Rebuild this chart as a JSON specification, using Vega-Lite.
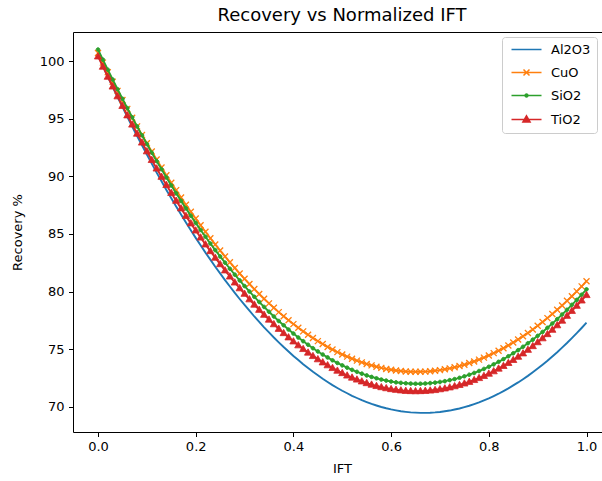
{
  "$schema": "https://vega.github.io/schema/vega-lite/v6.json",
  "autosize": {"type": "none"},
  "padding": {"left": 73, "top": 32, "right": 0, "bottom": 49},
  "width": 529,
  "height": 400,
  "background": "#ffffff",
  "title": {"text": "Recovery vs Normalized IFT", "frame": "group", "anchor": "middle", "dx": 4.5, "offset": 7, "fontSize": 18, "font": "DejaVu Sans", "fontWeight": "normal", "color": "#000000"},
  "config": {
    "font": "DejaVu Sans",
    "view": {"stroke": "#000000", "strokeWidth": 1},
    "axis": {"domain": false, "grid": false, "tickColor": "#000000", "tickSize": 4.5, "tickWidth": 1, "labelColor": "#000000", "labelFontSize": 13, "labelFont": "DejaVu Sans", "titleFont": "DejaVu Sans", "titleFontSize": 13, "titleFontWeight": "normal", "titleColor": "#000000"},
    "legend": {"orient": "top-right", "offset": 5, "padding": 6, "strokeColor": "#cccccc", "fillColor": "#ffffff", "cornerRadius": 3, "labelFont": "DejaVu Sans", "labelFontSize": 13, "labelColor": "#000000", "symbolSize": 36, "symbolOffset": 12, "labelOffset": 18, "rowPadding": 9, "symbolStrokeWidth": 1.5}
  },
  "datasets": {
    "d": [
      {"x":0,"Al2O3":100.5,"CuO":100.7,"SiO2":101,"TiO2":100.4},
      {"x":0.01,"Al2O3":99.58,"CuO":99.86,"SiO2":100.12,"TiO2":99.51},
      {"x":0.02,"Al2O3":98.66,"CuO":99.03,"SiO2":99.25,"TiO2":98.64},
      {"x":0.03,"Al2O3":97.77,"CuO":98.21,"SiO2":98.40,"TiO2":97.79},
      {"x":0.04,"Al2O3":96.88,"CuO":97.41,"SiO2":97.56,"TiO2":96.94},
      {"x":0.05,"Al2O3":96.02,"CuO":96.62,"SiO2":96.73,"TiO2":96.11},
      {"x":0.06,"Al2O3":95.16,"CuO":95.85,"SiO2":95.92,"TiO2":95.29},
      {"x":0.07,"Al2O3":94.32,"CuO":95.08,"SiO2":95.12,"TiO2":94.49},
      {"x":0.08,"Al2O3":93.49,"CuO":94.33,"SiO2":94.33,"TiO2":93.70},
      {"x":0.09,"Al2O3":92.68,"CuO":93.59,"SiO2":93.56,"TiO2":92.93},
      {"x":0.10,"Al2O3":91.88,"CuO":92.87,"SiO2":92.80,"TiO2":92.17},
      {"x":0.11,"Al2O3":91.10,"CuO":92.16,"SiO2":92.05,"TiO2":91.42},
      {"x":0.12,"Al2O3":90.32,"CuO":91.46,"SiO2":91.32,"TiO2":90.68},
      {"x":0.13,"Al2O3":89.57,"CuO":90.77,"SiO2":90.61,"TiO2":89.96},
      {"x":0.14,"Al2O3":88.82,"CuO":90.10,"SiO2":89.90,"TiO2":89.25},
      {"x":0.15,"Al2O3":88.10,"CuO":89.44,"SiO2":89.21,"TiO2":88.56},
      {"x":0.16,"Al2O3":87.38,"CuO":88.80,"SiO2":88.53,"TiO2":87.88},
      {"x":0.17,"Al2O3":86.68,"CuO":88.16,"SiO2":87.87,"TiO2":87.22},
      {"x":0.18,"Al2O3":85.99,"CuO":87.54,"SiO2":87.22,"TiO2":86.56},
      {"x":0.19,"Al2O3":85.32,"CuO":86.93,"SiO2":86.58,"TiO2":85.92},
      {"x":0.20,"Al2O3":84.66,"CuO":86.34,"SiO2":85.96,"TiO2":85.30},
      {"x":0.21,"Al2O3":84.02,"CuO":85.76,"SiO2":85.35,"TiO2":84.69},
      {"x":0.22,"Al2O3":83.38,"CuO":85.19,"SiO2":84.76,"TiO2":84.09},
      {"x":0.23,"Al2O3":82.77,"CuO":84.63,"SiO2":84.17,"TiO2":83.51},
      {"x":0.24,"Al2O3":82.16,"CuO":84.09,"SiO2":83.60,"TiO2":82.94},
      {"x":0.25,"Al2O3":81.58,"CuO":83.56,"SiO2":83.05,"TiO2":82.38},
      {"x":0.26,"Al2O3":81.00,"CuO":83.05,"SiO2":82.51,"TiO2":81.84},
      {"x":0.27,"Al2O3":80.44,"CuO":82.54,"SiO2":81.98,"TiO2":81.31},
      {"x":0.28,"Al2O3":79.89,"CuO":82.05,"SiO2":81.47,"TiO2":80.79},
      {"x":0.29,"Al2O3":79.36,"CuO":81.57,"SiO2":80.97,"TiO2":80.29},
      {"x":0.30,"Al2O3":78.84,"CuO":81.11,"SiO2":80.48,"TiO2":79.81},
      {"x":0.31,"Al2O3":78.34,"CuO":80.66,"SiO2":80.01,"TiO2":79.33},
      {"x":0.32,"Al2O3":77.84,"CuO":80.22,"SiO2":79.55,"TiO2":78.87},
      {"x":0.33,"Al2O3":77.37,"CuO":79.79,"SiO2":79.10,"TiO2":78.42},
      {"x":0.34,"Al2O3":76.90,"CuO":79.38,"SiO2":78.67,"TiO2":77.99},
      {"x":0.35,"Al2O3":76.46,"CuO":78.98,"SiO2":78.25,"TiO2":77.57},
      {"x":0.36,"Al2O3":76.02,"CuO":78.60,"SiO2":77.84,"TiO2":77.17},
      {"x":0.37,"Al2O3":75.60,"CuO":78.22,"SiO2":77.45,"TiO2":76.77},
      {"x":0.38,"Al2O3":75.19,"CuO":77.86,"SiO2":77.08,"TiO2":76.40},
      {"x":0.39,"Al2O3":74.80,"CuO":77.51,"SiO2":76.71,"TiO2":76.03},
      {"x":0.40,"Al2O3":74.42,"CuO":77.18,"SiO2":76.36,"TiO2":75.68},
      {"x":0.41,"Al2O3":74.06,"CuO":76.86,"SiO2":76.02,"TiO2":75.34},
      {"x":0.42,"Al2O3":73.70,"CuO":76.55,"SiO2":75.70,"TiO2":75.02},
      {"x":0.43,"Al2O3":73.37,"CuO":76.25,"SiO2":75.39,"TiO2":74.71},
      {"x":0.44,"Al2O3":73.04,"CuO":75.97,"SiO2":75.09,"TiO2":74.41},
      {"x":0.45,"Al2O3":72.74,"CuO":75.70,"SiO2":74.81,"TiO2":74.13},
      {"x":0.46,"Al2O3":72.44,"CuO":75.45,"SiO2":74.54,"TiO2":73.86},
      {"x":0.47,"Al2O3":72.16,"CuO":75.20,"SiO2":74.29,"TiO2":73.61},
      {"x":0.48,"Al2O3":71.89,"CuO":74.97,"SiO2":74.04,"TiO2":73.37},
      {"x":0.49,"Al2O3":71.64,"CuO":74.75,"SiO2":73.81,"TiO2":73.14},
      {"x":0.50,"Al2O3":71.40,"CuO":74.55,"SiO2":73.60,"TiO2":72.93},
      {"x":0.51,"Al2O3":71.18,"CuO":74.36,"SiO2":73.40,"TiO2":72.72},
      {"x":0.52,"Al2O3":70.96,"CuO":74.18,"SiO2":73.21,"TiO2":72.54},
      {"x":0.53,"Al2O3":70.77,"CuO":74.01,"SiO2":73.04,"TiO2":72.37},
      {"x":0.54,"Al2O3":70.58,"CuO":73.86,"SiO2":72.88,"TiO2":72.21},
      {"x":0.55,"Al2O3":70.42,"CuO":73.72,"SiO2":72.73,"TiO2":72.06},
      {"x":0.56,"Al2O3":70.26,"CuO":73.60,"SiO2":72.60,"TiO2":71.93},
      {"x":0.57,"Al2O3":70.12,"CuO":73.48,"SiO2":72.48,"TiO2":71.81},
      {"x":0.58,"Al2O3":69.99,"CuO":73.38,"SiO2":72.37,"TiO2":71.71},
      {"x":0.59,"Al2O3":69.88,"CuO":73.29,"SiO2":72.28,"TiO2":71.62},
      {"x":0.60,"Al2O3":69.78,"CuO":73.22,"SiO2":72.20,"TiO2":71.54},
      {"x":0.61,"Al2O3":69.70,"CuO":73.16,"SiO2":72.13,"TiO2":71.48},
      {"x":0.62,"Al2O3":69.62,"CuO":73.11,"SiO2":72.08,"TiO2":71.43},
      {"x":0.63,"Al2O3":69.57,"CuO":73.07,"SiO2":72.05,"TiO2":71.39},
      {"x":0.64,"Al2O3":69.52,"CuO":73.05,"SiO2":72.02,"TiO2":71.37},
      {"x":0.65,"Al2O3":69.50,"CuO":73.04,"SiO2":72.01,"TiO2":71.36},
      {"x":0.66,"Al2O3":69.48,"CuO":73.05,"SiO2":72.01,"TiO2":71.37},
      {"x":0.67,"Al2O3":69.48,"CuO":73.06,"SiO2":72.03,"TiO2":71.39},
      {"x":0.68,"Al2O3":69.49,"CuO":73.09,"SiO2":72.06,"TiO2":71.42},
      {"x":0.69,"Al2O3":69.52,"CuO":73.13,"SiO2":72.10,"TiO2":71.46},
      {"x":0.70,"Al2O3":69.56,"CuO":73.19,"SiO2":72.16,"TiO2":71.53},
      {"x":0.71,"Al2O3":69.62,"CuO":73.26,"SiO2":72.23,"TiO2":71.60},
      {"x":0.72,"Al2O3":69.68,"CuO":73.34,"SiO2":72.32,"TiO2":71.69},
      {"x":0.73,"Al2O3":69.77,"CuO":73.43,"SiO2":72.41,"TiO2":71.79},
      {"x":0.74,"Al2O3":69.86,"CuO":73.54,"SiO2":72.52,"TiO2":71.90},
      {"x":0.75,"Al2O3":69.98,"CuO":73.66,"SiO2":72.65,"TiO2":72.03},
      {"x":0.76,"Al2O3":70.10,"CuO":73.80,"SiO2":72.79,"TiO2":72.17},
      {"x":0.77,"Al2O3":70.24,"CuO":73.94,"SiO2":72.94,"TiO2":72.33},
      {"x":0.78,"Al2O3":70.39,"CuO":74.10,"SiO2":73.11,"TiO2":72.50},
      {"x":0.79,"Al2O3":70.56,"CuO":74.27,"SiO2":73.29,"TiO2":72.68},
      {"x":0.80,"Al2O3":70.74,"CuO":74.46,"SiO2":73.48,"TiO2":72.88},
      {"x":0.81,"Al2O3":70.94,"CuO":74.66,"SiO2":73.69,"TiO2":73.09},
      {"x":0.82,"Al2O3":71.14,"CuO":74.87,"SiO2":73.91,"TiO2":73.32},
      {"x":0.83,"Al2O3":71.37,"CuO":75.09,"SiO2":74.14,"TiO2":73.55},
      {"x":0.84,"Al2O3":71.60,"CuO":75.33,"SiO2":74.39,"TiO2":73.81},
      {"x":0.85,"Al2O3":71.86,"CuO":75.58,"SiO2":74.65,"TiO2":74.07},
      {"x":0.86,"Al2O3":72.12,"CuO":75.85,"SiO2":74.92,"TiO2":74.35},
      {"x":0.87,"Al2O3":72.40,"CuO":76.12,"SiO2":75.21,"TiO2":74.64},
      {"x":0.88,"Al2O3":72.69,"CuO":76.41,"SiO2":75.52,"TiO2":74.95},
      {"x":0.89,"Al2O3":73.00,"CuO":76.71,"SiO2":75.83,"TiO2":75.27},
      {"x":0.90,"Al2O3":73.32,"CuO":77.03,"SiO2":76.16,"TiO2":75.61},
      {"x":0.91,"Al2O3":73.66,"CuO":77.36,"SiO2":76.50,"TiO2":75.95},
      {"x":0.92,"Al2O3":74.00,"CuO":77.70,"SiO2":76.86,"TiO2":76.31},
      {"x":0.93,"Al2O3":74.37,"CuO":78.05,"SiO2":77.23,"TiO2":76.69},
      {"x":0.94,"Al2O3":74.74,"CuO":78.42,"SiO2":77.61,"TiO2":77.08},
      {"x":0.95,"Al2O3":75.14,"CuO":78.80,"SiO2":78.01,"TiO2":77.48},
      {"x":0.96,"Al2O3":75.54,"CuO":79.20,"SiO2":78.42,"TiO2":77.90},
      {"x":0.97,"Al2O3":75.96,"CuO":79.60,"SiO2":78.85,"TiO2":78.33},
      {"x":0.98,"Al2O3":76.39,"CuO":80.02,"SiO2":79.28,"TiO2":78.77},
      {"x":0.99,"Al2O3":76.84,"CuO":80.45,"SiO2":79.73,"TiO2":79.23},
      {"x":1.00,"Al2O3":77.30,"CuO":80.90,"SiO2":80.20,"TiO2":79.70}
    ]
  },
  "data": {"name": "d"},
  "layer": [
    {
      "mark": {"type": "line", "color": "#1f77b4", "strokeWidth": 1.9},
      "encoding": {
        "x": {"field": "x", "type": "quantitative", "scale": {"domain": [-0.0512, 1.0317], "nice": false, "zero": false}, "axis": {"title": "IFT", "values": [0, 0.2, 0.4, 0.6, 0.8, 1.0], "format": ".1f", "labelPadding": 4, "titlePadding": 9, "titleX": 269}},
        "y": {"field": "Al2O3", "type": "quantitative", "scale": {"domain": [67.82, 102.52], "nice": false, "zero": false}, "axis": {"title": "Recovery %", "values": [70, 75, 80, 85, 90, 95, 100], "labelPadding": 4.5, "titlePadding": 15}}
      }
    },
    {
      "mark": {"type": "line", "color": "#ff7f0e", "strokeWidth": 1.9},
      "encoding": {
        "x": {"field": "x", "type": "quantitative", "scale": {"domain": [-0.0512, 1.0317], "nice": false, "zero": false}, "axis": {"title": "IFT", "values": [0, 0.2, 0.4, 0.6, 0.8, 1.0], "format": ".1f", "labelPadding": 4, "titlePadding": 9, "titleX": 269}},
        "y": {"field": "CuO", "type": "quantitative", "scale": {"domain": [67.82, 102.52], "nice": false, "zero": false}, "axis": {"title": "Recovery %", "values": [70, 75, 80, 85, 90, 95, 100], "labelPadding": 4.5, "titlePadding": 15}}
      }
    },
    {
      "mark": {"type": "point", "shape": "M-1,-1L1,1M-1,1L1,-1", "size": 36, "filled": true, "fill": "#ff7f0e", "stroke": "#ff7f0e", "strokeWidth": 1.3, "opacity": 1},
      "encoding": {
        "x": {"field": "x", "type": "quantitative", "scale": {"domain": [-0.0512, 1.0317], "nice": false, "zero": false}, "axis": {"title": "IFT", "values": [0, 0.2, 0.4, 0.6, 0.8, 1.0], "format": ".1f", "labelPadding": 4, "titlePadding": 9, "titleX": 269}},
        "y": {"field": "CuO", "type": "quantitative", "scale": {"domain": [67.82, 102.52], "nice": false, "zero": false}, "axis": {"title": "Recovery %", "values": [70, 75, 80, 85, 90, 95, 100], "labelPadding": 4.5, "titlePadding": 15}}
      }
    },
    {
      "mark": {"type": "line", "color": "#2ca02c", "strokeWidth": 1.9},
      "encoding": {
        "x": {"field": "x", "type": "quantitative", "scale": {"domain": [-0.0512, 1.0317], "nice": false, "zero": false}, "axis": {"title": "IFT", "values": [0, 0.2, 0.4, 0.6, 0.8, 1.0], "format": ".1f", "labelPadding": 4, "titlePadding": 9, "titleX": 269}},
        "y": {"field": "SiO2", "type": "quantitative", "scale": {"domain": [67.82, 102.52], "nice": false, "zero": false}, "axis": {"title": "Recovery %", "values": [70, 75, 80, 85, 90, 95, 100], "labelPadding": 4.5, "titlePadding": 15}}
      }
    },
    {
      "mark": {"type": "point", "shape": "M0.6,0A0.6,0.6,0,1,1,-0.6,0A0.6,0.6,0,1,1,0.6,0Z", "size": 36, "filled": true, "fill": "#2ca02c", "stroke": "#2ca02c", "strokeWidth": 1, "opacity": 1},
      "encoding": {
        "x": {"field": "x", "type": "quantitative", "scale": {"domain": [-0.0512, 1.0317], "nice": false, "zero": false}, "axis": {"title": "IFT", "values": [0, 0.2, 0.4, 0.6, 0.8, 1.0], "format": ".1f", "labelPadding": 4, "titlePadding": 9, "titleX": 269}},
        "y": {"field": "SiO2", "type": "quantitative", "scale": {"domain": [67.82, 102.52], "nice": false, "zero": false}, "axis": {"title": "Recovery %", "values": [70, 75, 80, 85, 90, 95, 100], "labelPadding": 4.5, "titlePadding": 15}}
      }
    },
    {
      "mark": {"type": "line", "color": "#d62728", "strokeWidth": 1.9},
      "encoding": {
        "x": {"field": "x", "type": "quantitative", "scale": {"domain": [-0.0512, 1.0317], "nice": false, "zero": false}, "axis": {"title": "IFT", "values": [0, 0.2, 0.4, 0.6, 0.8, 1.0], "format": ".1f", "labelPadding": 4, "titlePadding": 9, "titleX": 269}},
        "y": {"field": "TiO2", "type": "quantitative", "scale": {"domain": [67.82, 102.52], "nice": false, "zero": false}, "axis": {"title": "Recovery %", "values": [70, 75, 80, 85, 90, 95, 100], "labelPadding": 4.5, "titlePadding": 15}}
      }
    },
    {
      "mark": {"type": "point", "shape": "M0,-1.25L1.2,0.85L-1.2,0.85Z", "size": 36, "filled": true, "fill": "#d62728", "stroke": "#d62728", "strokeWidth": 0.8, "opacity": 1},
      "encoding": {
        "x": {"field": "x", "type": "quantitative", "scale": {"domain": [-0.0512, 1.0317], "nice": false, "zero": false}, "axis": {"title": "IFT", "values": [0, 0.2, 0.4, 0.6, 0.8, 1.0], "format": ".1f", "labelPadding": 4, "titlePadding": 9, "titleX": 269}},
        "y": {"field": "TiO2", "type": "quantitative", "scale": {"domain": [67.82, 102.52], "nice": false, "zero": false}, "axis": {"title": "Recovery %", "values": [70, 75, 80, 85, 90, 95, 100], "labelPadding": 4.5, "titlePadding": 15}}
      }
    },
    {
      "transform": [
        {"fold": ["Al2O3", "CuO", "SiO2", "TiO2"], "as": ["series", "val"]},
        {"filter": "datum.x == 0"}
      ],
      "mark": {"type": "point", "filled": false, "opacity": 0, "size": 36, "strokeWidth": 1.5},
      "encoding": {
        "x": {"field": "x", "type": "quantitative", "scale": {"domain": [-0.0512, 1.0317], "nice": false, "zero": false}, "axis": {"title": "IFT", "values": [0, 0.2, 0.4, 0.6, 0.8, 1.0], "format": ".1f", "labelPadding": 4, "titlePadding": 9, "titleX": 269}},
        "y": {"field": "val", "type": "quantitative", "scale": {"domain": [67.82, 102.52], "nice": false, "zero": false}, "axis": {"title": "Recovery %", "values": [70, 75, 80, 85, 90, 95, 100], "labelPadding": 4.5, "titlePadding": 15}},
        "color": {"field": "series", "type": "nominal", "scale": {"domain": ["Al2O3", "CuO", "SiO2", "TiO2"], "range": ["#1f77b4", "#ff7f0e", "#2ca02c", "#d62728"]}, "legend": {"title": null}},
        "shape": {"field": "series", "type": "nominal", "scale": {"domain": ["Al2O3", "CuO", "SiO2", "TiO2"], "range": ["M-5,0H5", "M-5,0H5M-1,-1L1,1M-1,1L1,-1", "M-5,0H5M0.5,0A0.5,0.5,0,1,1,-0.5,0A0.5,0.5,0,1,1,0.5,0Z", "M-5,0H5M0,-1.25L1.2,0.85L-1.2,0.85ZM0,-0.7L0.65,0.45L-0.65,0.45ZM0,-0.2L0.2,0.15L-0.2,0.15Z"]}, "legend": {"title": null}}
      }
    }
  ]
}
